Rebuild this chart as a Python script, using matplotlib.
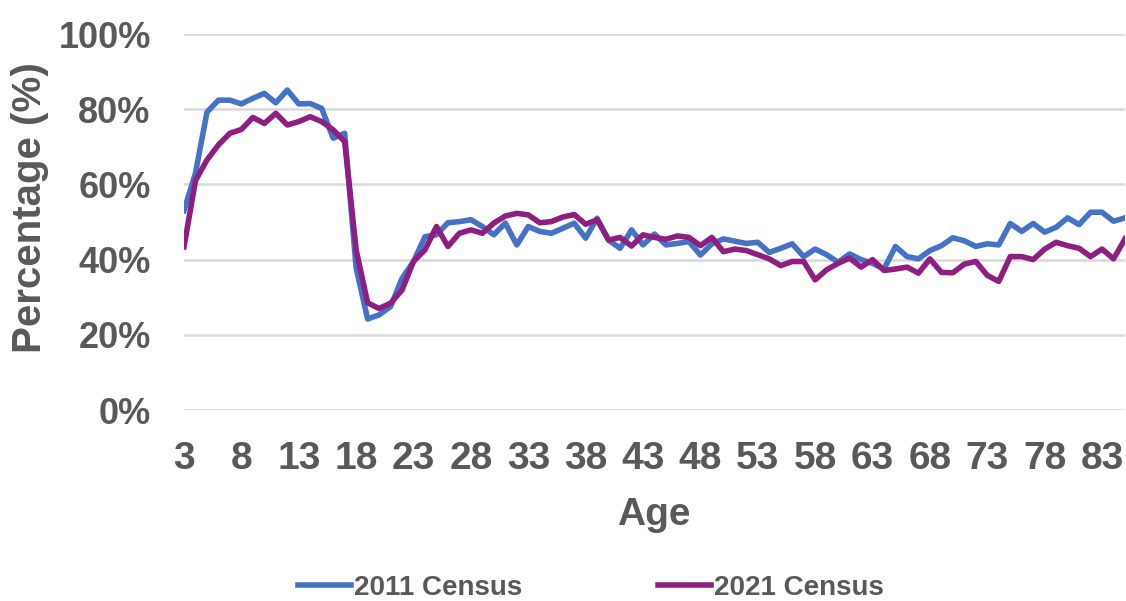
import matplotlib
matplotlib.use("Agg")
import matplotlib.pyplot as plt
import numpy as np

# ages shown on the x axis
ages = list(range(3, 86))

# share of people (%) per age
census_2011 = [
    53, 63, 79.2, 82.4, 82.4, 81.4, 82.9, 84.2, 81.7, 85.1,
    81.4, 81.5, 80.2, 72.3, 73.6, 37.8, 24.2, 25.3, 27.5, 35,
    39.5, 46.1, 46.6, 49.8, 50.1, 50.6, 48.8, 46.6, 49.7, 43.9,
    48.8, 47.5, 47, 48.3, 49.7, 45.7, 51, 45.2, 43, 47.9,
    43.9, 46.8, 43.9, 44.3, 44.8, 41.2, 44.2, 45.5, 44.9, 44.3,
    44.6, 41.9, 43, 44.2, 40.8, 42.8, 41.3, 39.3, 41.5, 40,
    39, 37.5, 43.5, 40.8, 40.2, 42.4, 43.7, 45.8, 45, 43.5,
    44.2, 43.9, 49.6, 47.5, 49.6, 47.3, 48.6, 51.1, 49.3, 52.6,
    52.6, 50.2, 51.1,
]
census_2021 = [
    43.4, 61, 66.5, 70.5, 73.6, 74.6, 77.8, 76.2, 78.9, 75.8,
    76.7, 78, 76.7, 74.5, 71.4, 42.6, 28.5, 27, 28.4, 31.9,
    39.5, 42.6, 48.8, 43.5, 47, 47.9, 47, 49.7, 51.6, 52.3,
    51.9, 49.8, 50.1, 51.3, 52, 49.4, 50.6, 45.2, 45.9, 43.6,
    46.6, 45.9, 45.4, 46.3, 45.9, 43.7, 45.9, 42.1, 42.8, 42.4,
    41.3, 40.2, 38.4, 39.5, 39.5, 34.6, 37.3, 39, 40.4, 38,
    40, 37.1, 37.5, 38, 36.4, 40.2, 36.6, 36.5, 38.8, 39.5,
    35.8, 34.2, 40.8, 40.8, 40, 42.8, 44.6, 43.7, 43, 40.8,
    42.8, 40.2, 45.5,
]

x_ticks = list(range(3, 84, 5))
y_ticks = [0, 20, 40, 60, 80, 100]

grey = "#595959"
plt.rcParams["font.family"] = ["Liberation Sans", "DejaVu Sans"]
plt.rcParams["font.weight"] = "bold"

fig = plt.figure(figsize=(11.26, 6.01), dpi=100)
ax = fig.add_axes([184 / 1126, 1 - 410 / 601, (1125 - 184) / 1126, (410 - 34) / 601])

l1, = ax.plot(ages, census_2011, color="#4472C4", linewidth=4.0)
l2, = ax.plot(ages, census_2021, color="#8E1F80", linewidth=4.0)

ax.set_xlim(3, 85)
ax.set_ylim(0, 100)
ax.set_xticks(x_ticks)
ax.set_yticks(y_ticks)
ax.set_yticklabels([f"{v}%" for v in y_ticks])
ax.grid(axis="y", color="#d9d9d9", linewidth=1.8)
ax.set_axisbelow(True)
for s in ax.spines.values():
    s.set_visible(False)
ax.tick_params(axis="both", length=0, labelcolor=grey)
ax.tick_params(axis="y", pad=24, labelsize=26)
ax.tick_params(axis="x", pad=22, labelsize=28)

fig.text(0.027, 0.655, "Percentage (%)", rotation=90, ha="center", va="center",
         fontsize=29, color=grey, fontweight="bold")
fig.text(654 / 1126, 1 - 515 / 601, "Age", ha="center", va="center",
         fontsize=28, color=grey, fontweight="bold")

fig.legend([l1, l2], ["2011 Census", "2021 Census"], loc="center",
           bbox_to_anchor=(591 / 1126, 1 - 588 / 601), ncol=2, frameon=False,
           labelcolor=grey, handlelength=1.9, handletextpad=0.1,
           columnspacing=4.9, prop={"weight": "bold", "size": 20})

fig.savefig("out.png", dpi=100)
